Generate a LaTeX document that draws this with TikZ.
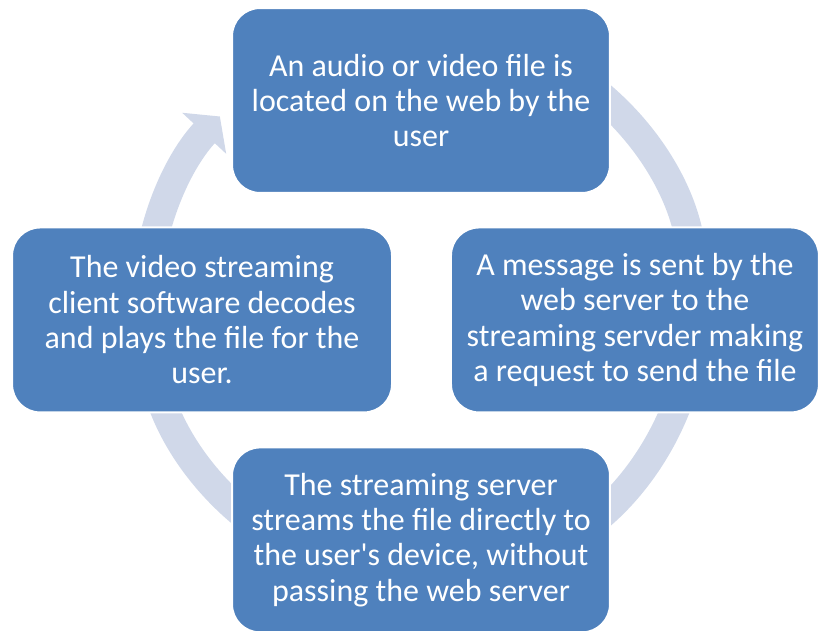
\documentclass[tikz,border=0pt]{standalone}
\usepackage{fontspec}
\setmainfont{Carlito}
\usetikzlibrary{positioning}
\usetikzlibrary{arrows.meta}
\definecolor{stageblue}{HTML}{4F81BD}
\definecolor{ringgray}{HTML}{D0D8E9}
\tikzset{
    stage/.style = {rectangle, rounded corners=0.56cm, fill=stageblue, draw=white,
        line width=0.04cm, text=white, align=center, inner sep=0pt,
        minimum width=7.56cm, minimum height=3.7cm,
        font=\fontsize{18.2}{20.1}\selectfont},
    ring/.style = {ringgray, line width=0.58cm},
    ringtip/.style = {ring, -{Triangle[width=1.18cm, length=0.46cm]}}}

\begin{document}
\begin{tikzpicture}[x=0.02cm, y=0.02cm, on grid]
    \useasboundingbox (0,0) rectangle (819,-631);
    \coordinate (hub) at (421,-304);
    % cycle ring, clockwise
    \draw[ringtip] ([shift={(60:275)}]hub) arc[start angle=60, end angle=8, radius=5.5cm];
    \draw[ringtip] ([shift={(-10:275)}]hub) arc[start angle=-10, end angle=-65, radius=5.5cm];
    \draw[ringtip] ([shift={(-115:275)}]hub) arc[start angle=-115, end angle=-170, radius=5.5cm];
    \draw[ringtip] ([shift={(175:275)}]hub) arc[start angle=175, end angle=137, radius=5.5cm];
    % stages
    \node[stage] (locate) at (421,-100.5) {An audio or video file is\\located on the web by the\\user};
    \node[stage, minimum width=7.6cm, below left=4.39cm and 4.38cm of locate] (decode)
        {The video streaming\\client software decodes\\and plays the file for the\\user.};
    \node[stage, minimum width=7.36cm, below right=4.39cm and 4.28cm of locate] (request)
        {A message is sent by the\\web server to the\\streaming servder making\\a request to send the file};
    \node[stage, below=8.79cm of locate] (stream)
        {The streaming server\\streams the file directly to\\the user\textquotesingle s device, without\\passing the web server};
\end{tikzpicture}
\end{document}
